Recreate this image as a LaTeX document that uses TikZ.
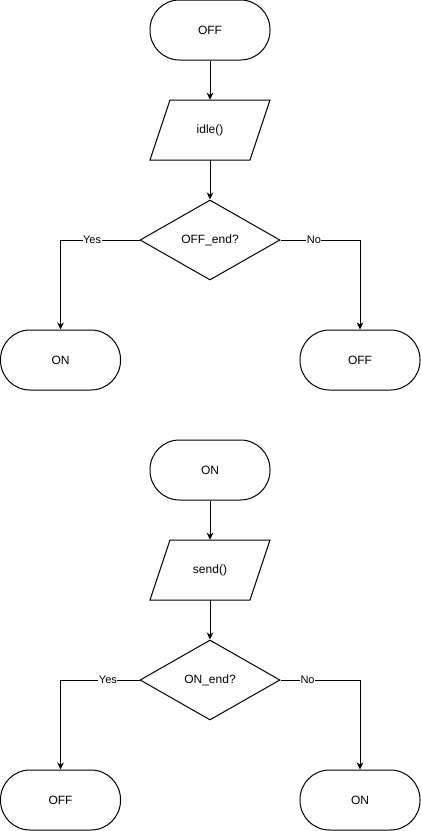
\documentclass[tikz,border=0pt]{standalone}
\usepackage{fontspec}
\setmainfont{Liberation Sans}
\usetikzlibrary{shapes.geometric,arrows.meta}
\begin{document}
\begin{tikzpicture}[x=1pt,y=-1pt,
  every node/.style={font=\fontsize{12}{14}\selectfont},
  term/.style={draw,rounded corners=29.5pt,minimum width=120pt,minimum height=60pt,inner sep=0pt,line width=1pt},
  io/.style={minimum width=120pt,minimum height=60pt,inner sep=0pt},
  para/.style={line width=1pt,line join=miter},
  dec/.style={draw,diamond,minimum width=140pt,minimum height=80pt,inner sep=0pt,line width=1pt},
  flow/.style={line width=1pt,-{Stealth[length=7pt,width=6.5pt,inset=2pt]}},
  lbl/.style={fill=white,inner sep=0.5pt,font=\fontsize{11}{13}\selectfont}
]
\useasboundingbox (0,0) rectangle (421,831);
% first flow
\node[term] (off1) at (210,30) {OFF};
\node[io] (idle) at (210,130) {idle()};
\draw[para] ([shift={(-40,-30)}]idle.center) -- ([shift={(60,-30)}]idle.center) -- ([shift={(40,30)}]idle.center) -- ([shift={(-60,30)}]idle.center) -- cycle;
\node[dec] (d1) at (210,240) {OFF\_end?};
\node[term] (on1) at (60.5,360) {ON};
\node[term] (off2) at (360,360) {OFF};
\draw[flow] (off1) -- (idle);
\draw[flow] (idle) -- (d1);
\draw[flow] (d1.west) -| node[lbl,pos=0.3]{Yes} (on1.north);
\draw[flow] (d1.east) -| node[lbl,pos=0.21]{No} (off2.north);
% second flow
\node[term] (on2) at (210,470) {ON};
\node[io] (send) at (210,570) {send()};
\draw[para] ([shift={(-40,-30)}]send.center) -- ([shift={(60,-30)}]send.center) -- ([shift={(40,30)}]send.center) -- ([shift={(-60,30)}]send.center) -- cycle;
\node[dec] (d2) at (210,680) {ON\_end?};
\node[term] (off3) at (60.5,800) {OFF};
\node[term] (on3) at (360,800) {ON};
\draw[flow] (on2) -- (send);
\draw[flow] (send) -- (d2);
\draw[flow] (d2.west) -| node[lbl,pos=0.2]{Yes} (off3.north);
\draw[flow] (d2.east) -| node[lbl,pos=0.17]{No} (on3.north);
\end{tikzpicture}
\end{document}
